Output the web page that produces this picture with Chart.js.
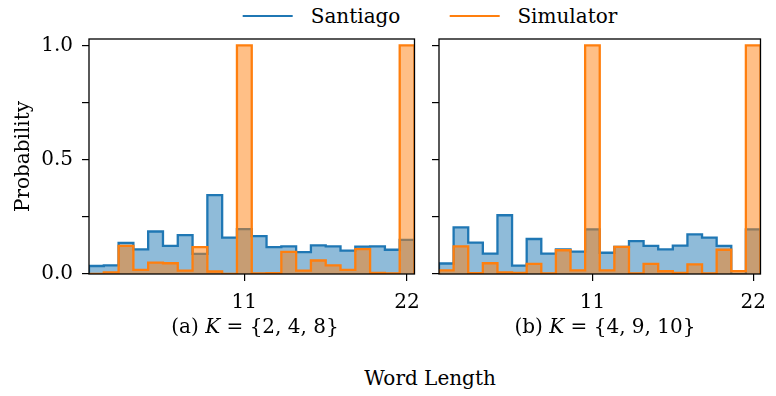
<!DOCTYPE html>
<html>
<head>
<meta charset="utf-8">
<script src="https://cdn.jsdelivr.net/npm/chart.js@4.4.0/dist/chart.umd.min.js"></script>
<style>
  body { margin: 0; background: #fff; }
  #wrap { position: relative; width: 776px; height: 396px; font-family: "DejaVu Serif", serif; color: #000; }
  canvas { position: absolute; top: 0; }
  .txt { position: absolute; font-size: 20px; white-space: nowrap; transform: translate(-50%, -50%); }
  #legenda { position: absolute; left: 430px; top: 16px; transform: translate(-50%, -50%); display: flex; align-items: center; font-size: 20px; white-space: nowrap; }
  .linha { display: inline-block; width: 50px; height: 2px; margin-right: 18px; }
</style>
</head>
<body>
<div id="wrap">
  <div id="legenda">
    <span class="linha" style="background:#1f77b4"></span><span>Santiago</span>
    <span class="linha" style="background:#ff7f0e; margin-left:49px"></span><span>Simulator</span>
  </div>
  <canvas id="graficoA" width="430" height="320" style="left:0"></canvas>
  <canvas id="graficoB" width="346" height="320" style="left:430px"></canvas>
  <div class="txt" style="left:255px; top:326px">(a) <i>K</i> = {2, 4, 8}</div>
  <div class="txt" style="left:605px; top:326px">(b) <i>K</i> = {4, 9, 10}</div>
  <div class="txt" style="left:430px; top:378px">Word Length</div>
</div>
<script>
// comprimento das palavras (centro de cada bin)
const comprimentos = [1, 2, 3, 4, 5, 6, 7, 8, 9, 10, 11, 12, 13, 14, 15, 16, 17, 18, 19, 20, 21, 22];

// (a) K = {2,4,8}
const santiagoA  = [0.035, 0.038, 0.136, 0.108, 0.186, 0.123, 0.170, 0.088, 0.345, 0.159, 0.196,
                    0.166, 0.118, 0.121, 0.096, 0.125, 0.121, 0.102, 0.120, 0.121, 0.106, 0.149];
const simulatorA = [0, 0.007, 0.123, 0.018, 0.050, 0.047, 0.015, 0.118, 0.011, 0, 1.0,
                    0.003, 0.004, 0.097, 0.015, 0.059, 0.038, 0.018, 0.109, 0.005, 0.003, 1.0];

// (b) K = {4,9,10}
const santiagoB  = [0.046, 0.204, 0.137, 0.089, 0.257, 0.037, 0.153, 0.089, 0.108, 0.098, 0.195,
                    0.093, 0.119, 0.144, 0.123, 0.108, 0.124, 0.173, 0.159, 0.123, 0, 0.195];
const simulatorB = [0.016, 0.121, 0.004, 0.047, 0.007, 0.005, 0.044, 0.003, 0.104, 0.016, 1.0,
                    0.016, 0.119, 0.003, 0.044, 0.012, 0.005, 0.042, 0.003, 0.106, 0.013, 1.0];

const ticksX = [11, 22];
const ticksY = [0, 0.25, 0.5, 0.75, 1.0];
const labelsY = [0, 0.5, 1.0];

// transforma os valores de cada bin em pontos de degrau (bordas dos bins)
function pontosDegrau(valores) {
    const pts = [{ x: comprimentos[0] - 0.5, y: 0 }];
    valores.forEach((v, i) => pts.push({ x: comprimentos[i] - 0.5, y: v }));
    const ultimo = comprimentos[comprimentos.length - 1] + 0.5;
    pts.push({ x: ultimo, y: valores[valores.length - 1] });
    pts.push({ x: ultimo, y: 0 });
    return pts;
}

// moldura completa em volta da área do gráfico
const moldura = {
    id: 'moldura',
    afterDatasetsDraw(chart) {
        const a = chart.chartArea;
        const ctx = chart.ctx;
        ctx.save();
        ctx.strokeStyle = '#000';
        ctx.lineWidth = 1.3;
        ctx.strokeRect(a.left, a.top, a.right - a.left, a.bottom - a.top);
        ctx.restore();
    }
};

function criarGrafico(canvas, santiago, simulator, comLabels) {
    return new Chart(canvas, {
        type: 'line',
        data: {
            datasets: [{
                label: 'Simulator',
                data: pontosDegrau(simulator),
                borderColor: '#ff7f0e',
                backgroundColor: 'rgba(255, 127, 14, 0.5)',
                fill: 'origin',
                borderWidth: 2.3,
                stepped: 'before',
                pointRadius: 0
            }, {
                label: 'Santiago',
                data: pontosDegrau(santiago),
                borderColor: '#1f77b4',
                backgroundColor: 'rgba(31, 119, 180, 0.5)',
                fill: 'origin',
                borderWidth: 2.3,
                stepped: 'before',
                pointRadius: 0
            }]
        },
        options: {
            responsive: false,
            animation: false,
            devicePixelRatio: 1,
            layout: { padding: { top: 39, right: comLabels ? 8 : 4, left: 0, bottom: 0 } },
            plugins: { legend: false, tooltip: { enabled: false } },
            scales: {
                x: {
                    type: 'linear',
                    min: 0.5,
                    max: 22.5,
                    afterBuildTicks: s => { s.ticks = ticksX.map(v => ({ value: v })); },
                    afterFit: s => { s.height = 46; },
                    border: { display: false },
                    grid: { drawOnChartArea: false, drawTicks: true, tickLength: 7, color: '#000', lineWidth: 1.2 },
                    ticks: { color: '#000', padding: 10, font: { family: 'DejaVu Serif', size: 20 } }
                },
                y: {
                    min: 0,
                    max: 1.028,
                    afterBuildTicks: s => { s.ticks = ticksY.map(v => ({ value: v })); },
                    afterFit: s => { s.width = comLabels ? 89 : 9; },
                    border: { display: false },
                    grid: { drawOnChartArea: false, drawTicks: true, tickLength: 7, color: '#000', lineWidth: 1.2 },
                    ticks: {
                        display: comLabels,
                        color: '#000',
                        padding: 9,
                        font: { family: 'DejaVu Serif', size: 20 },
                        callback: v => labelsY.includes(v) ? v.toFixed(1) : ''
                    },
                    title: {
                        display: comLabels,
                        text: 'Probability',
                        color: '#000',
                        padding: { top: 12, bottom: 0 },
                        font: { family: 'DejaVu Serif', size: 20 }
                    }
                }
            }
        },
        plugins: [moldura]
    });
}

criarGrafico(document.getElementById('graficoA'), santiagoA, simulatorA, true);
criarGrafico(document.getElementById('graficoB'), santiagoB, simulatorB, false);
</script>
</body>
</html>
